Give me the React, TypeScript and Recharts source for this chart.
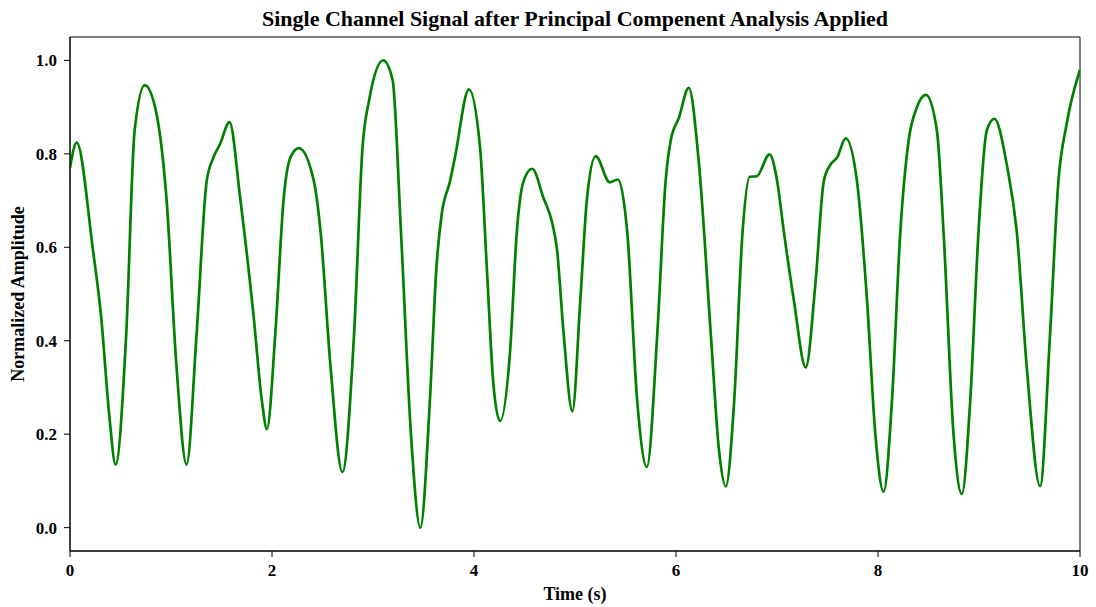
import { LineChart, Line, XAxis, YAxis, ReferenceArea } from "recharts";

// time (s) and normalized amplitude
const times = [
  0, 0.066, 0.226, 0.308, 0.391, 0.451, 0.557, 0.64, 0.74, 0.856, 0.955, 1.055,
  1.154, 1.254, 1.353, 1.42, 1.486, 1.579, 1.685, 1.818, 1.9, 1.95, 2.033, 2.116,
  2.182, 2.265, 2.415, 2.481, 2.58, 2.697, 2.813, 2.896, 2.962, 3.101, 3.194,
  3.277, 3.376, 3.469, 3.563, 3.629, 3.679, 3.762, 3.811, 3.95, 4.06, 4.126,
  4.192, 4.258, 4.358, 4.424, 4.49, 4.576, 4.689, 4.772, 4.821, 4.887, 4.974,
  5.053, 5.119, 5.205, 5.344, 5.424, 5.517, 5.616, 5.712, 5.815, 5.897, 5.947,
  6.03, 6.126, 6.228, 6.344, 6.427, 6.493, 6.576, 6.659, 6.73, 6.8, 6.926,
  7.002, 7.068, 7.166, 7.285, 7.381, 7.463, 7.529, 7.595, 7.68, 7.792, 7.891,
  7.974, 8.056, 8.138, 8.221, 8.303, 8.386, 8.474, 8.583, 8.649, 8.748, 8.83,
  8.913, 8.995, 9.077, 9.153, 9.275, 9.374, 9.473, 9.605, 9.704, 9.786, 9.868,
  10,
];

const amplitude = [
  0.77, 0.824, 0.596, 0.452, 0.235, 0.135, 0.416, 0.85, 0.947, 0.886, 0.705,
  0.343, 0.135, 0.416, 0.741, 0.792, 0.821, 0.868, 0.705, 0.452, 0.271, 0.211,
  0.416, 0.705, 0.792, 0.812, 0.741, 0.633, 0.343, 0.119, 0.416, 0.813, 0.915,
  1.0, 0.958, 0.633, 0.199, 0.0, 0.271, 0.56, 0.669, 0.741, 0.792, 0.938, 0.813,
  0.56, 0.307, 0.228, 0.38, 0.633, 0.741, 0.768, 0.705, 0.654, 0.597, 0.416,
  0.249, 0.488, 0.705, 0.795, 0.739, 0.745, 0.633, 0.271, 0.13, 0.416, 0.741,
  0.828, 0.878, 0.941, 0.777, 0.416, 0.163, 0.088, 0.271, 0.633, 0.751, 0.752,
  0.799, 0.741, 0.633, 0.488, 0.343, 0.524, 0.741, 0.777, 0.792, 0.833, 0.741,
  0.488, 0.199, 0.077, 0.271, 0.633, 0.828, 0.9, 0.926, 0.85, 0.633, 0.199,
  0.072, 0.271, 0.633, 0.85, 0.875, 0.777, 0.633, 0.343, 0.089, 0.416, 0.741,
  0.864, 0.98,
];

const xTicks = [0, 2, 4, 6, 8, 10];
const yTicks = [0, 0.2, 0.4, 0.6, 0.8, 1.0];

const data = times.map((t, i) => ({ t, v: amplitude[i] }));

const serif = "'Liberation Serif', 'Times New Roman', serif";
const tickStyle = { fontFamily: serif, fontWeight: 700, fontSize: 17, fill: "#000" };

export default function App() {
  return (
    <div style={{ position: "relative", width: 1096, height: 607, background: "#fff" }}>
      <style>{`body { margin: 0; }`}</style>
      <div
        style={{
          position: "absolute",
          left: 70,
          width: 1010,
          top: 5,
          textAlign: "center",
          fontFamily: serif,
          fontWeight: 700,
          fontSize: 22,
          lineHeight: "28px",
        }}
      >
        Single Channel Signal after Principal Compenent Analysis Applied
      </div>
      <div
        style={{
          position: "absolute",
          left: 70,
          width: 1010,
          top: 582,
          textAlign: "center",
          fontFamily: serif,
          fontWeight: 700,
          fontSize: 18,
          lineHeight: "24px",
        }}
      >
        Time (s)
      </div>
      <div
        style={{
          position: "absolute",
          left: 18,
          top: 294,
          transform: "translate(-50%, -50%) rotate(-90deg)",
          whiteSpace: "nowrap",
          fontFamily: serif,
          fontWeight: 700,
          fontSize: 18,
          lineHeight: "22px",
        }}
      >
        Normalized Amplitude
      </div>
      <LineChart
        width={1096}
        height={607}
        data={data}
        margin={{ top: 37, right: 16, bottom: 26, left: 10 }}
      >
        <XAxis
          dataKey="t"
          type="number"
          domain={[0, 10]}
          ticks={xTicks}
          allowDataOverflow
          height={30}
          tick={tickStyle}
          tickSize={6}
          tickMargin={7}
          stroke="#000"
        />
        <YAxis
          type="number"
          domain={[-0.05, 1.05]}
          ticks={yTicks}
          allowDataOverflow
          width={60}
          tick={tickStyle}
          tickSize={6}
          tickMargin={7}
          tickFormatter={(v: number) => v.toFixed(1)}
          stroke="#000"
        />
        <ReferenceArea
          x1={0}
          x2={10}
          y1={-0.05}
          y2={1.05}
          fill="none"
          stroke="#000"
          strokeWidth={1}
          fillOpacity={0}
        />
        <Line
          type="monotone"
          dataKey="v"
          stroke="#008000"
          strokeWidth={2.7}
          dot={false}
          isAnimationActive={false}
        />
      </LineChart>
    </div>
  );
}
